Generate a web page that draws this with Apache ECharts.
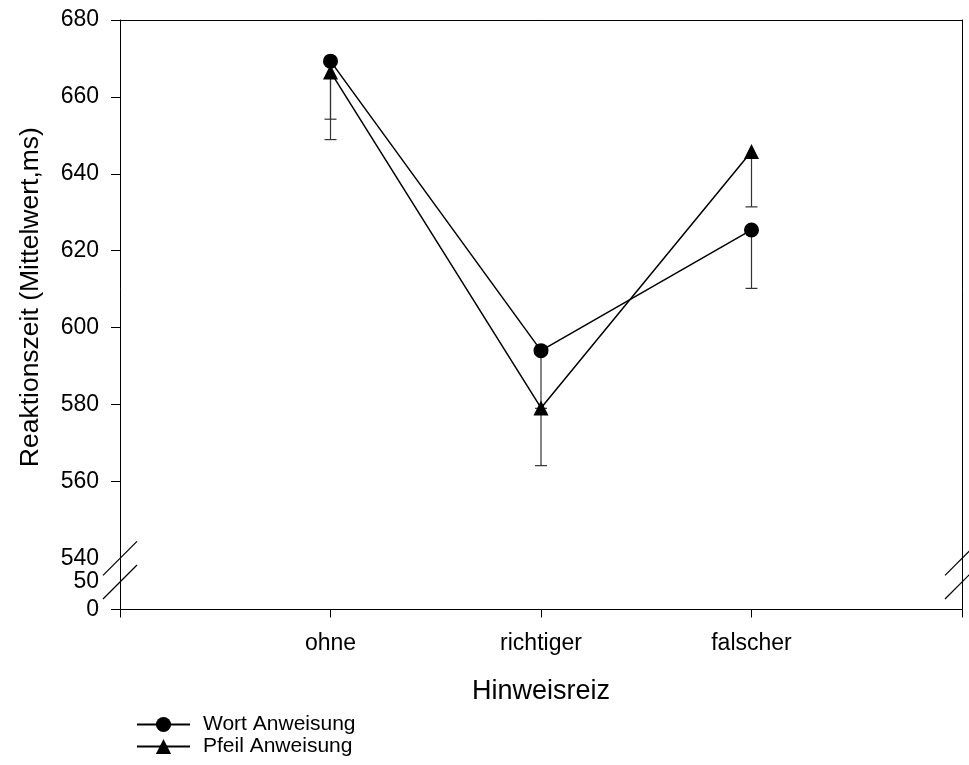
<!DOCTYPE html>
<html><head><meta charset="utf-8">
<script src="https://cdn.jsdelivr.net/npm/echarts@6/dist/echarts.min.js"></script>
<style>html,body{margin:0;padding:0;background:#fff}#c{width:969px;height:765px}</style>
</head><body><div id="c"></div>
<script>
const categories = ['ohne', 'richtiger', 'falscher'];
const categoryPositions = [1, 2, 3];
const wortMean = [669.3, 594.0, 625.4];
const wortLower = [654.2, 579.0, 610.2];
const pfeilMean = [666.5, 579.1, 645.8];
const pfeilLower = [648.9, 564.1, 631.4];
const upperTicks = [560, 580, 600, 620, 640, 660, 680];
const lowerTicks = [0];
const seriesNames = ['Wort Anweisung', 'Pfeil Anweisung'];
const xAxisTitle = 'Hinweisreiz';
const yAxisTitle = 'Reaktionszeit (Mittelwert,ms)';

const FONT = "'Liberation Sans', Arial, sans-serif";
const AX = '#000';
const chart = echarts.init(document.getElementById('c'), null, {renderer: 'canvas'});

function errData(mean, lower) { return categoryPositions.map((x, i) => [x, mean[i], lower[i]]); }
function lineData(mean) { return categoryPositions.map((x, i) => [x, mean[i]]); }

function renderErr(params, api) {
  const x = api.value(0), m = api.value(1), lo = api.value(2);
  const p1 = api.coord([x, m]), p2 = api.coord([x, lo]);
  const hw = 6;
  const style = {stroke: '#333', lineWidth: 1.2};
  return {type: 'group', children: [
    {type: 'line', shape: {x1: p1[0], y1: p1[1], x2: p2[0], y2: p2[1]}, style: style},
    {type: 'line', shape: {x1: p2[0] - hw, y1: p2[1], x2: p2[0] + hw, y2: p2[1]}, style: style}
  ]};
}

const labelStyle = {color: '#000', fontFamily: FONT, fontSize: 23};

const option = {
  backgroundColor: '#fff',
  animation: false,
  grid: [
    {left: 120, right: 7, top: 20, bottom: 206.7, containLabel: false, outerBoundsMode: 'none'},
    {left: 120, right: 7, top: 582, bottom: 155.5, containLabel: false, outerBoundsMode: 'none'}
  ],
  xAxis: [
    {gridIndex: 0, type: 'value', min: 0, max: 4, interval: 1, show: false},
    {gridIndex: 0, type: 'value', min: 0, max: 4, interval: 1, position: 'top',
      axisLine: {show: true, onZero: false, lineStyle: {color: AX, width: 1}},
      axisTick: {show: false}, axisLabel: {show: false}, splitLine: {show: false}},
    {gridIndex: 1, type: 'value', min: 0, max: 4, interval: 1, position: 'bottom',
      axisLine: {show: true, onZero: false, lineStyle: {color: AX, width: 1}},
      axisTick: {show: true, length: 8, lineStyle: {color: AX, width: 1}},
      axisLabel: Object.assign({margin: 23, formatter: v => categories[categoryPositions.indexOf(v)] || ''}, labelStyle),
      splitLine: {show: false},
      name: xAxisTitle, nameLocation: 'middle', nameGap: 69,
      nameTextStyle: {color: '#000', fontFamily: FONT, fontSize: 27}}
  ],
  yAxis: [
    {gridIndex: 0, type: 'value', min: 540, max: 680, interval: 20, position: 'left',
      axisLine: {show: true, onZero: false, lineStyle: {color: AX, width: 1}},
      axisTick: {show: true, length: 9, customValues: upperTicks, lineStyle: {color: AX, width: 1}},
      axisLabel: Object.assign({margin: 21}, labelStyle),
      splitLine: {show: false},
      name: yAxisTitle, nameLocation: 'middle', nameGap: 76, nameRotate: 90,
      nameTextStyle: {color: '#000', fontFamily: FONT, fontSize: 26.5, padding: [0, 16, 0, 0]}},
    {gridIndex: 0, type: 'value', min: 540, max: 680, position: 'right',
      axisLine: {show: true, onZero: false, lineStyle: {color: AX, width: 1}},
      axisTick: {show: false}, axisLabel: {show: false}, splitLine: {show: false}},
    {gridIndex: 1, type: 'value', min: 0, max: 50, interval: 50, position: 'left',
      axisLine: {show: true, onZero: false, lineStyle: {color: AX, width: 1}},
      axisTick: {show: true, length: 9, customValues: lowerTicks, lineStyle: {color: AX, width: 1}},
      axisLabel: Object.assign({margin: 21}, labelStyle),
      splitLine: {show: false}},
    {gridIndex: 1, type: 'value', min: 0, max: 50, position: 'right',
      axisLine: {show: true, onZero: false, lineStyle: {color: AX, width: 1}},
      axisTick: {show: false}, axisLabel: {show: false}, splitLine: {show: false}}
  ],
  legend: {
    orient: 'vertical', left: 131, top: 709,
    itemWidth: 53, itemHeight: 19, itemGap: 1,
    textStyle: {color: '#000', fontFamily: FONT, fontSize: 21, padding: [0, 0, 0, 8]},
    data: seriesNames
  },
  series: [
    {type: 'custom', name: 'errW', xAxisIndex: 0, yAxisIndex: 0, renderItem: renderErr,
      data: errData(wortMean, wortLower), z: 1, silent: true},
    {type: 'custom', name: 'errP', xAxisIndex: 0, yAxisIndex: 0, renderItem: renderErr,
      data: errData(pfeilMean, pfeilLower), z: 1, silent: true},
    {type: 'line', name: seriesNames[0], xAxisIndex: 0, yAxisIndex: 0, data: lineData(wortMean),
      symbol: 'circle', symbolSize: 15, color: '#000',
      lineStyle: {color: '#000', width: 1.5}, itemStyle: {color: '#000'}, z: 3},
    {type: 'line', name: seriesNames[1], xAxisIndex: 0, yAxisIndex: 0, data: lineData(pfeilMean),
      symbol: 'triangle', symbolSize: 15, color: '#000',
      lineStyle: {color: '#000', width: 1.5}, itemStyle: {color: '#000'}, z: 2}
  ]
};
chart.setOption(option);

// axis break decorations (positions derived from the axes)
const pL0 = chart.convertToPixel({gridIndex: 0}, [0, 540]);
const pR0 = chart.convertToPixel({gridIndex: 0}, [4, 540]);
const pL1 = chart.convertToPixel({gridIndex: 1}, [0, 50]);
const pR1 = chart.convertToPixel({gridIndex: 1}, [4, 50]);
const s = 17;
function slash(p) {
  return {type: 'line', shape: {x1: p[0] - s, y1: p[1] + s, x2: p[0] + s, y2: p[1] - s},
    style: {stroke: '#000', lineWidth: 1.2}, z: 10};
}
function seg(a, b) {
  return {type: 'line', shape: {x1: Math.round(a[0]) + 0.5, y1: a[1], x2: Math.round(b[0]) + 0.5, y2: b[1]},
    style: {stroke: AX, lineWidth: 1}, z: 10};
}
chart.setOption({graphic: [slash(pL0), slash(pL1), slash(pR0), slash(pR1), seg(pL0, pL1), seg(pR0, pR1)]});
</script></body></html>
